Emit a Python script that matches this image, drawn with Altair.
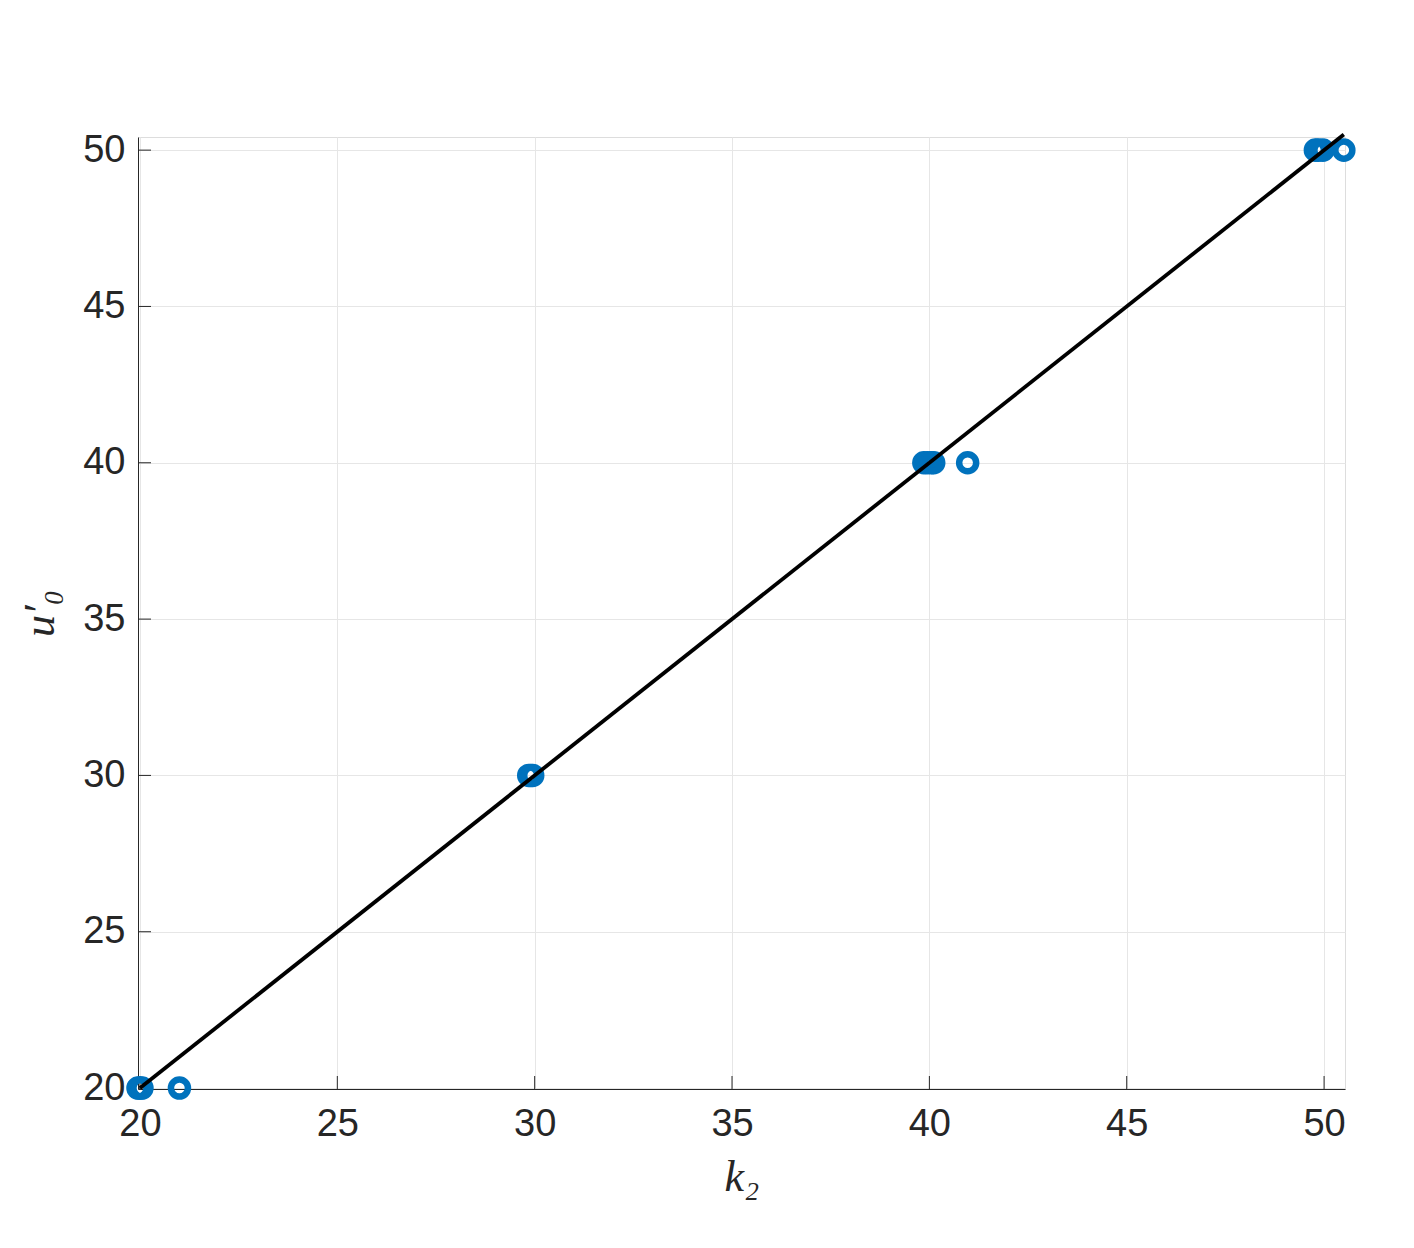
import altair as alt
import pandas as pd

# estimated scatter points (k2, u0')
k2_vals = [19.95, 20.0, 20.05, 21.0,
           29.85, 29.9, 29.95,
           39.86, 39.95, 40.05, 40.11, 40.97,
           49.78, 49.85, 49.97, 50.5]
u0_vals = [20, 20, 20, 20,
           30, 30, 30,
           40, 40, 40, 40, 40,
           50, 50, 50, 50]

# reference line y = x
line_x = [20.0, 50.5]
line_y = [20.0, 50.5]

x_ticks = [20, 25, 30, 35, 40, 45, 50]
y_ticks = [20, 25, 30, 35, 40, 45, 50]

x_domain = [19.95, 50.53]
y_domain = [19.97, 50.42]

pts = pd.DataFrame({"k2": k2_vals, "u0": u0_vals})
ln = pd.DataFrame({"k2": line_x, "u0": line_y})
xt = pd.DataFrame({"t": x_ticks})
yt = pd.DataFrame({"t": y_ticks})

W, H = 1207, 952
TXT = "#262626"
LABEL_FONT = "Liberation Sans"

xscale = alt.Scale(domain=x_domain, nice=False, zero=False)
yscale = alt.Scale(domain=y_domain, nice=False, zero=False)

xaxis = alt.Axis(values=x_ticks, grid=True, gridColor="#e6e6e6", gridWidth=1,
                 ticks=False, domainColor=TXT, domainWidth=1,
                 labelFont=LABEL_FONT, labelFontSize=38, labelColor=TXT,
                 labelPadding=16, labelFlush=False,
                 title="k₂", titleFont="Liberation Serif", titleFontStyle="italic",
                 titleFontWeight="normal", titleFontSize=44, titleColor=TXT,
                 titlePadding=12)
yaxis = alt.Axis(values=y_ticks, grid=True, gridColor="#e6e6e6", gridWidth=1,
                 ticks=False, domainColor=TXT, domainWidth=1,
                 labelFont=LABEL_FONT, labelFontSize=38, labelColor=TXT,
                 labelPadding=13, labelFlush=False,
                 title="u′₀", titleFont="Liberation Serif", titleFontStyle="italic",
                 titleFontWeight="normal", titleFontSize=44, titleColor=TXT,
                 titlePadding=20)

base_line = alt.Chart(ln).mark_line(color="black", strokeWidth=3.8).encode(
    x=alt.X("k2:Q", scale=xscale, axis=xaxis),
    y=alt.Y("u0:Q", scale=yscale, axis=yaxis),
)

points = alt.Chart(pts).mark_point(
    shape="circle", filled=False, color="#0072BD", strokeWidth=6.5, size=290, opacity=1
).encode(
    x=alt.X("k2:Q", scale=xscale),
    y=alt.Y("u0:Q", scale=yscale),
)

xtick_marks = alt.Chart(xt).mark_rule(color=TXT, strokeWidth=1).encode(
    x=alt.X("t:Q", scale=xscale),
    y=alt.value(H),
    y2=alt.value(H - 13),
)
ytick_marks = alt.Chart(yt).mark_rule(color=TXT, strokeWidth=1).encode(
    y=alt.Y("t:Q", scale=yscale),
    x=alt.value(0),
    x2=alt.value(13),
)

chart = alt.layer(xtick_marks, ytick_marks, points, base_line).properties(
    width=W, height=H,
    autosize=alt.AutoSizeParams(type="none"),
    padding={"left": 130, "top": 129, "right": 50, "bottom": 140},
).configure_view(strokeWidth=0).configure(background="white")

chart.save("out.html", embed_options={"renderer": "svg", "actions": False})
